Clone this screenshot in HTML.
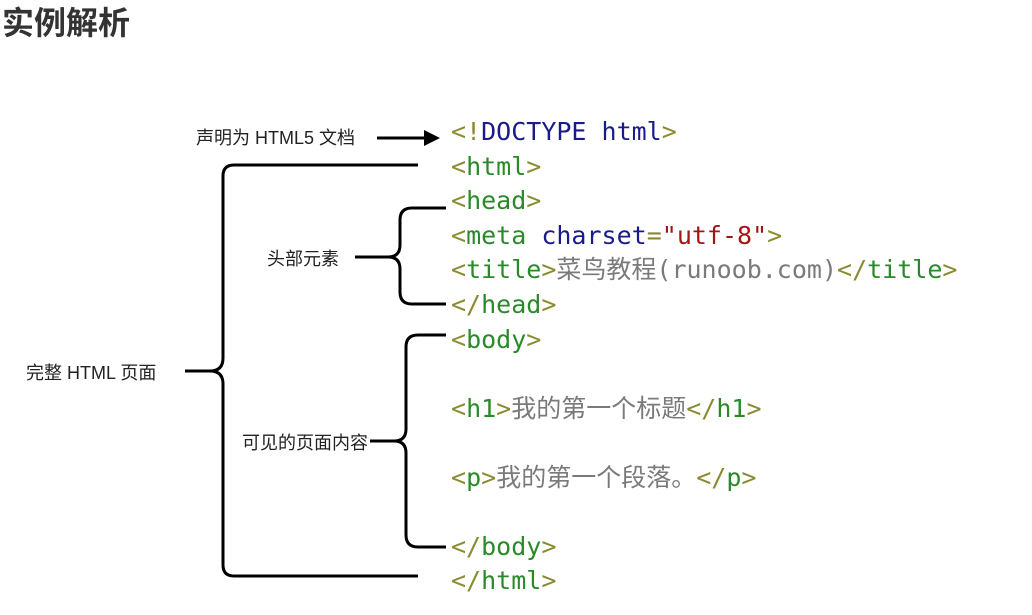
<!DOCTYPE html>
<html><head><meta charset="utf-8"><style>
html,body{margin:0;padding:0;background:#fff;width:1032px;height:615px;overflow:hidden}
svg{display:block}
.c{font-family:"DejaVu Sans Mono","Liberation Mono","Noto Sans CJK SC",monospace;font-size:25px}
.b{fill:#8a8a30}.t{fill:#2a8a2a}.n{fill:#1a1a8a}.s{fill:#a31515}.g{fill:#7a7a7a}
.l{font-family:"Liberation Sans","Noto Sans CJK SC",sans-serif;font-size:18px;fill:#222}
</style></head><body>
<svg width="1032" height="615" xmlns="http://www.w3.org/2000/svg">
<text x="2" y="34" style="font-family:'Liberation Sans','Noto Sans CJK SC',sans-serif;font-size:32px;font-weight:bold;fill:#333">实例解析</text>
<g class="l">
<text x="196" y="144">声明为 HTML5 文档</text>
<text x="267" y="265">头部元素</text>
<text x="26" y="379">完整 HTML 页面</text>
<text x="242" y="449">可见的页面内容</text>
</g>
<g fill="none" stroke="#000" stroke-width="3">
<line x1="377" y1="138" x2="425" y2="138"/>
<path d="M418 165 H234 Q223 165 223 176 V358 Q223 371 210 371 H185 M210 371 Q223 371 223 384 V565 Q223 576 234 576 H418"/>
<path d="M446 208 H412 Q400 208 400 220 V245 Q400 257 388 257 H355 M388 257 Q400 257 400 269 V292 Q400 304 412 304 H446"/>
<path d="M446 335 H418 Q406 335 406 347 V429 Q406 441 394 441 H370 M394 441 Q406 441 406 453 V535 Q406 547 418 547 H446"/>
</g>
<polygon points="440,138 424,130 424,146" fill="#000"/>
<g class="c">
<text x="451" y="140"><tspan class="b">&lt;!</tspan><tspan class="n">DOCTYPE html</tspan><tspan class="b">&gt;</tspan></text>
<text x="451" y="175"><tspan class="b">&lt;</tspan><tspan class="t">html</tspan><tspan class="b">&gt;</tspan></text>
<text x="451" y="209"><tspan class="b">&lt;</tspan><tspan class="t">head</tspan><tspan class="b">&gt;</tspan></text>
<text x="451" y="244"><tspan class="b">&lt;</tspan><tspan class="t">meta</tspan><tspan class="n"> charset</tspan><tspan class="b">=</tspan><tspan class="s">"utf-8"</tspan><tspan class="b">&gt;</tspan></text>
<text x="451" y="278"><tspan class="b">&lt;</tspan><tspan class="t">title</tspan><tspan class="b">&gt;</tspan><tspan class="g">菜鸟教程(runoob.com)</tspan><tspan class="b">&lt;/</tspan><tspan class="t">title</tspan><tspan class="b">&gt;</tspan></text>
<text x="451" y="313"><tspan class="b">&lt;/</tspan><tspan class="t">head</tspan><tspan class="b">&gt;</tspan></text>
<text x="451" y="348"><tspan class="b">&lt;</tspan><tspan class="t">body</tspan><tspan class="b">&gt;</tspan></text>
<text x="451" y="417"><tspan class="b">&lt;</tspan><tspan class="t">h1</tspan><tspan class="b">&gt;</tspan><tspan class="g">我的第一个标题</tspan><tspan class="b">&lt;/</tspan><tspan class="t">h1</tspan><tspan class="b">&gt;</tspan></text>
<text x="451" y="486"><tspan class="b">&lt;</tspan><tspan class="t">p</tspan><tspan class="b">&gt;</tspan><tspan class="g">我的第一个段落。</tspan><tspan class="b">&lt;/</tspan><tspan class="t">p</tspan><tspan class="b">&gt;</tspan></text>
<text x="451" y="555"><tspan class="b">&lt;/</tspan><tspan class="t">body</tspan><tspan class="b">&gt;</tspan></text>
<text x="451" y="589"><tspan class="b">&lt;/</tspan><tspan class="t">html</tspan><tspan class="b">&gt;</tspan></text>
</g>
</svg>
</body></html>
